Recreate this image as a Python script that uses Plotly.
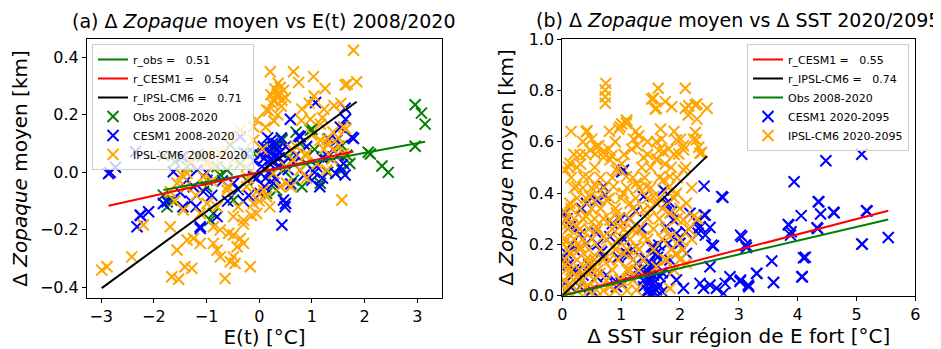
import plotly.graph_objects as go
import numpy as np

# ---------------- Panel (a) data: E(t) vs dZopaque 2008/2020 ----------------
obs_a_x = [2.96, 3.15, 2.96, 3.08, 2.11, 2.33, 2.45, 2.07, -1.82, -1.6, -1.45, -1.18, -1.31, -1.66, -1.82,
           -0.99, -0.74, -0.61, -0.55, -0.36, -0.24, -0.11, 0.43, 0.78, 0.46, 0.65, 0.81, 1.16, 1.57, 1.72,
           1.66, 1.22, 0.97, -0.93, -0.87, -0.49, 0.14, 0.33, -1.75, -1.37, -1.09, 0.43, 1.0, 0.31, 1.57,
           0.2, 0.55, 0.9, -0.3, -0.8, 1.3, 0.7, -1.0, 1.05]
obs_a_y = [0.091, 0.168, 0.235, 0.206, 0.064, 0.022, 0.0, 0.07, 0.058, 0.037, 0.054, 0.06, 0.031, -0.096, -0.079,
           -0.027, -0.009, 0.008, 0.095, 0.031, -0.027, 0.066, 0.112, 0.1, 0.008, -0.027, -0.05, -0.038, 0.008, 0.031,
           0.06, 0.054, 0.147, -0.166, -0.143, -0.096, -0.073, -0.062, -0.12, 0.02, 0.054, 0.116, 0.15, 0.081, 0.093,
           0.09, 0.05, 0.03, 0.07, 0.02, 0.0, 0.14, -0.05, 0.08]

cesm_a_x = [-2.83, -2.73, -2.86, -2.35, -2.32, -2.26, -2.1, -1.82, -1.63, -1.47, -1.37, -1.25, -1.12, -1.18, -1.06,
            -0.8, -0.49, -0.36, -0.24, -0.11, 0.14, 0.21, 0.33, 0.46, 0.49, 0.43, 0.78, 1.0, 1.09, 1.31, 1.47,
            1.79, 1.63, 1.54, 1.6, 0.65, 0.02, 0.27,
            0.1, 0.15, 0.2, 0.25, 0.3, 0.35, 0.18, 0.05, 0.4, 0.22, 0.12, 0.28,
            1.07, 0.59, 0.75, 1.54, 1.76, 1.32, 1.64, 1.63, -2.25, -1.75, -1.12, 0.5, 1.45,
            -1.5, -1.3, -0.9, -0.7, -1.0, -0.6, -1.2, -1.45, 0.7, 0.9, 1.2, 1.4, 0.85, 1.15,
            0.08, 0.16, 0.24, 0.32, 0.38, 0.45, 0.02, 0.3, 0.2, 0.42, 0.1, 0.5, 0.55, -0.1, -0.05,
            -0.2, -0.4, -0.3, 0.6, 1.05, 1.2, 1.5]
cesm_a_y = [0.0, 0.018, -0.004, 0.072, -0.189, -0.149, -0.137, -0.108, 0.002, 0.054, -0.027, -0.05, -0.189, 0.008, -0.067,
            -0.154, -0.038, 0.124, 0.066, -0.015, 0.066, 0.043, 0.078, -0.096, -0.12, -0.183, 0.124, -0.027, 0.02, 0.054, 0.112,
            0.118, -0.009, 0.02, 0.031, 0.031, -0.073, -0.038,
            0.05, 0.08, 0.03, 0.1, 0.06, 0.02, 0.0, 0.02, 0.07, 0.11, -0.02, 0.04,
            0.243, 0.185, 0.127, 0.157, 0.122, 0.116, 0.185, 0.223, -0.15, -0.102, -0.195, -0.108, -0.004,
            -0.07, -0.1, -0.08, -0.03, 0.0, -0.1, -0.12, -0.12, 0.06, 0.09, 0.05, 0.08, -0.01, -0.05,
            0.09, 0.12, 0.0, 0.1, 0.05, 0.03, 0.06, -0.02, 0.07, 0.12, -0.05, 0.09, 0.01, 0.04, -0.02,
            -0.08, -0.06, -0.1, -0.04, 0.0, -0.02, 0.06]

ipsl_a_x = [1.79, 1.85, 1.63, 0.21, 0.65, 1.03, 1.25, 0.36, 0.46, 0.33, 0.43, 0.24, 0.14,
            0.75, 1.67, 0.4, 0.34, 1.04, 0.81, 1.23, 1.42, 0.18, 0.28, 0.97, 1.16, 1.64, 1.29, 1.51, 1.23,
            0.12, 0.62, 0.88, 1.38, 1.6, 0.06,
            -2.89, -2.99, -2.42, -2.2, -1.69, -1.56, -1.66, -1.53, -1.41, -1.28, -1.37, -1.25, -1.12, -0.87,
            -0.8, -0.74, -0.87, -0.74, -0.58, -0.49, -0.49, -0.55, -0.46, -0.65, -0.17, -0.36, -0.3, -0.42,
            -0.3, -0.05, -0.11, -0.49, -0.99, -1.12, -1.44, 1.57, -1.37, -1.06, -0.74, -0.49, -0.24, -0.11,
            0.08, 0.27, 0.52, 0.78, 0.9, 1.28, 1.41, 1.16, 1.6, 0.65, 0.14, -0.05, -0.24, -0.61, -1.69,
            -1.56, -1.47, -0.87, -0.99, -0.36, -0.55, -0.11, -0.05,
            0.3, 0.38, 0.27, 0.42, 0.35, 0.22, 0.5, 0.5, 0.6, 0.9, 1.1, 1.3, 1.5, 1.0, 0.7,
            -0.4, -0.2, 0.0, -0.6, -0.9, -1.2, -1.4, -1.6, -1.3, -1.0, -0.7, -0.8, -0.3, -0.15, 0.2,
            0.4, 0.8, 1.2, 1.4, 1.55, 0.95]
ipsl_a_y = [0.425, 0.315, 0.304, 0.35, 0.35, 0.333, 0.292, 0.31, 0.286, 0.263, 0.251, 0.24, 0.217,
            0.313, 0.307, 0.296, 0.272, 0.266, 0.22, 0.22, 0.232, 0.214, 0.179, 0.185, 0.168, 0.151, 0.116, 0.093, 0.081,
            0.157, 0.081, 0.058, 0.046, 0.064, 0.081,
            -0.328, -0.34, -0.294, -0.183, -0.189, -0.27, -0.363, -0.372, -0.328, -0.334, -0.235, -0.23, -0.247, -0.247,
            -0.27, -0.294, -0.189, -0.2, -0.212, -0.218, -0.294, -0.311, -0.317, -0.369, -0.328, -0.23, -0.247, -0.259,
            -0.166, -0.143, -0.108, -0.154, -0.108, -0.143, -0.131, -0.096, -0.003, -0.015, 0.066, 0.043, 0.02, 0.112,
            -0.062, -0.003, -0.038, 0.008, 0.066, 0.008, 0.078, 0.112, 0.159, 0.043, -0.085, -0.067, -0.05, -0.062, -0.067,
            -0.038, -0.009, 0.02, 0.066, 0.147, 0.124, 0.159, 0.182,
            0.29, 0.27, 0.25, 0.23, 0.2, 0.27, 0.26, 0.02, -0.05, -0.02, 0.03, 0.1, 0.12, 0.13, 0.09,
            -0.12, -0.02, -0.1, -0.05, -0.03, -0.08, -0.05, -0.1, 0.04, 0.03, 0.06, -0.12, -0.18, -0.15, -0.12,
            -0.05, 0.18, 0.19, 0.14, 0.24, 0.24]

# regression lines (slope, intercept)
fit_a_slope = {"obs": 0.0338, "cesm": 0.0405, "ipsl": 0.134}
fit_a_icpt = {"obs": 0.0, "cesm": 0.0, "ipsl": -0.002}
r_a = {"obs": "0.51", "cesm": "0.54", "ipsl": "0.71"}

# ---------------- Panel (b) data: dSST vs dZopaque 2020/2095 ----------------
cesm_b_x = [5.09, 4.48, 3.94, 2.41, 2.73, 4.35, 4.62, 5.17, 4.39, 4.06, 3.84, 3.89, 4.34, 5.54, 5.1,
            3.05, 3.12, 3.13, 3.56, 4.13, 4.08, 3.59, 3.3, 2.85, 3.02, 3.16, 2.77, 2.62, 2.74, 2.51,
            2.34, 2.4, 2.06, 2.51, 2.57, 2.43, 2.34, 2.41, 2.51, 2.28, 2.31, 2.17, 1.89, 1.94, 1.77,
            1.8, 2.0, 2.11, 1.83, 1.6, 1.55, 1.49, 1.41, 1.52, 1.6, 1.46, 1.38, 1.15, 1.26, 1.09,
            1.04, 1.72, 1.77, 0.98, 0.81, 0.7, 0.58, 0.41, 0.13, 0.07, 0.05, 0.19, 0.3, 0.02, 0.41,
            0.92, 0.58, 1.38, 0.7, 1.83, 1.94, 1.66, 3.03, 3.11, 3.03, 3.17, 3.31, 3.59, 4.07, 4.1,
            3.85, 3.88, 4.36, 4.61, 4.33, 5.18, 5.09, 2.71, 2.43, 2.32, 2.54,
            1.01, 1.13, 0.73, 0.33, 0.16, 0.56, 1.13, 1.35, 1.86, 1.81, 2.1, 0.67, 0.23, 0.91, 1.3,
            1.59, 1.47, 1.56, 1.7, 1.41, 1.64, 0.06, 0.11, 1.5, 1.55, 1.62, 1.48, 1.53, 1.58,
            1.45, 1.5, 1.55, 1.6, 1.65, 1.42, 1.58, 1.52, 1.7, 1.48, 1.62, 1.38,
            0.05, 0.1, 0.15, 0.3, 0.2, 0.08, 0.45, 0.6, 0.75, 0.95, 1.05, 1.2, 0.85, 1.25, 1.0, 0.5, 0.35]
cesm_b_y = [0.551, 0.526, 0.444, 0.427, 0.383, 0.366, 0.323, 0.331, 0.318, 0.312, 0.278, 0.249, 0.262, 0.227, 0.201,
            0.23, 0.197, 0.188, 0.135, 0.15, 0.074, 0.051, 0.087, 0.074, 0.055, 0.042, 0.048, 0.029, 0.009, 0.042,
            0.048, 0.029, 0.029, 0.113, 0.194, 0.236, 0.269, 0.314, 0.266, 0.288, 0.243, 0.321, 0.295, 0.243, 0.269,
            0.204, 0.204, 0.165, 0.139, 0.165, 0.191, 0.113, 0.087, 0.042, 0.022, 0.016, 0.035, 0.074, 0.126, 0.165,
            0.49, 0.412, 0.36, 0.295, 0.23, 0.152, 0.074, 0.36, 0.269, 0.165, 0.321, 0.1, 0.035, 0.139, 0.204,
            0.035, 0.373, 0.386, 0.425, 0.087, 0.061, 0.074, 0.236, 0.197, 0.061, 0.035, 0.087, 0.052, 0.074, 0.148,
            0.275, 0.236, 0.366, 0.325, 0.265, 0.33, 0.201, 0.386, 0.314, 0.262, 0.197,
            0.483, 0.302, 0.392, 0.34, 0.275, 0.249, 0.159, 0.262, 0.327, 0.366, 0.249, 0.171, 0.093, 0.055, 0.093,
            0.12, 0.068, 0.029, 0.016, 0.146, 0.197, 0.146, 0.042, 0.06, 0.1, 0.15, 0.005, 0.01, 0.18,
            0.02, 0.05, 0.08, 0.12, 0.04, 0.1, 0.16, 0.19, 0.09, 0.13, 0.0, 0.06,
            0.05, 0.12, 0.2, 0.24, 0.18, 0.3, 0.12, 0.2, 0.08, 0.15, 0.22, 0.18, 0.28, 0.33, 0.05, 0.02, 0.08]

ipsl_b_x = [0.74, 0.73, 0.73, 0.73, 1.63, 2.09, 1.55, 1.75, 1.6, 1.86, 2.09, 2.26, 2.46, 2.14, 1.09,
            1.52, 1.58, 2.15, 2.29, 2.29, 1.01, 1.1, 0.96, 0.42, 0.5, 0.62, 0.79, 0.56, 0.7, 0.84,
            0.31, 0.11, 1.21, 1.3, 1.27, 1.18, 1.38, 1.67, 1.69, 1.64, 1.81, 2.01, 2.06, 2.26, 2.23,
            2.32, 2.37, 1.98, 1.61, 1.01, 1.75,
            0.41, 0.13, 0.05, 0.3, 0.47, 0.58, 0.7, 0.81, 0.98, 1.09, 0.92, 1.09, 1.26, 1.43, 1.6,
            1.72, 1.94, 2.06, 2.28, 2.34, 2.06, 1.83, 1.72, 1.94, 2.11, 2.23, 2.06, 1.83, 1.6, 1.55,
            1.38, 1.15, 1.04, 0.87, 0.75, 0.58, 0.47, 0.36, 0.24, 0.13, 0.07, 0.24, 0.41, 0.58, 0.7,
            0.87, 1.04, 1.26, 1.38, 1.21, 0.98, 0.81, 0.92, 1.83, 1.94, 2.11, 1.77, 1.6, 1.38, 1.15,
            0.98, 0.81, 0.64, 0.47, 0.3, 0.13, 0.07, 0.13, 0.24, 0.41, 0.07, 0.05, 0.58, 1.26, 1.83,
            0.41, 0.7, 0.03, 0.05, 0.02, 0.04, 0.03,
            0.1, 0.25, 0.45, 0.7, 0.9, 1.1,
            0.03, 0.2, 0.35, 0.55, 0.75, 1.0, 1.2,
            0.15, 0.3, 0.5, 0.6, 0.85, 1.1, 1.3, 1.9,
            0.05, 0.25, 0.4, 0.55, 0.8, 0.95, 1.2, 1.75, 2.0,
            0.1, 0.3, 0.45, 0.65, 0.9, 1.1, 1.3, 1.55, 1.85, 2.05,
            0.02, 0.2, 0.35, 0.5, 0.75, 0.95, 1.15, 1.45, 1.7, 2.0, 2.2,
            0.1, 0.3, 0.45, 0.6, 0.85, 1.05, 1.3, 1.55, 1.75, 2.15,
            0.05, 0.2, 0.35, 0.55, 0.7, 0.95, 1.15, 1.45, 1.65, 1.95, 2.3,
            0.15, 0.3, 0.5, 0.65, 0.9, 1.2, 1.5, 1.7, 2.0,
            0.25, 0.4, 0.6, 0.8, 1.0, 1.25, 1.45, 1.65, 1.9,
            0.2, 0.35, 0.5, 0.7, 1.1, 1.3, 1.5, 1.8, 2.2,
            0.15, 0.45, 0.65, 0.85, 1.2, 1.4, 1.65, 1.95,
            0.25, 0.55, 0.95, 1.35, 1.5, 1.85, 2.1,
            0.2, 0.4, 1.05, 1.45, 1.9,
            0.35, 0.9, 1.45, 1.6,
            0.15, 0.8, 1.25, 1.9]
ipsl_b_y = [0.827, 0.801, 0.775, 0.75, 0.808, 0.808, 0.769, 0.756, 0.73, 0.736, 0.73, 0.743, 0.73, 0.704, 0.684,
            0.766, 0.727, 0.74, 0.747, 0.688, 0.669, 0.682, 0.649, 0.643, 0.61, 0.584, 0.571, 0.552, 0.539, 0.545,
            0.513, 0.5, 0.61, 0.623, 0.584, 0.571, 0.539, 0.649, 0.61, 0.565, 0.571, 0.61, 0.584, 0.636, 0.61,
            0.578, 0.558, 0.552, 0.533, 0.513, 0.513,
            0.639, 0.516, 0.49, 0.548, 0.567, 0.58, 0.561, 0.529, 0.658, 0.672, 0.49, 0.464, 0.438, 0.425, 0.529,
            0.561, 0.607, 0.568, 0.607, 0.555, 0.49, 0.464, 0.451, 0.399, 0.36, 0.308, 0.295, 0.321, 0.36, 0.386,
            0.334, 0.36, 0.399, 0.425, 0.373, 0.425, 0.386, 0.464, 0.425, 0.36, 0.295, 0.269, 0.308, 0.269, 0.23,
            0.191, 0.165, 0.191, 0.23, 0.256, 0.269, 0.295, 0.321, 0.23, 0.165, 0.126, 0.139, 0.113, 0.139, 0.1,
            0.061, 0.035, 0.087, 0.139, 0.191, 0.165, 0.1, 0.048, 0.074, 0.035, 0.217, 0.022, 0.022, 0.022, 0.029,
            0.1, 0.139, 0.33, 0.27, 0.2, 0.12, 0.06,
            0.02, 0.02, 0.02, 0.02, 0.02, 0.02,
            0.06, 0.06, 0.06, 0.06, 0.06, 0.06, 0.06,
            0.1, 0.1, 0.1, 0.1, 0.1, 0.1, 0.1, 0.1,
            0.14, 0.14, 0.14, 0.14, 0.14, 0.14, 0.14, 0.14, 0.14,
            0.18, 0.18, 0.18, 0.18, 0.18, 0.18, 0.18, 0.18, 0.18, 0.18,
            0.22, 0.22, 0.22, 0.22, 0.22, 0.22, 0.22, 0.22, 0.22, 0.22, 0.22,
            0.26, 0.26, 0.26, 0.26, 0.26, 0.26, 0.26, 0.26, 0.26, 0.26,
            0.3, 0.3, 0.3, 0.3, 0.3, 0.3, 0.3, 0.3, 0.3, 0.3, 0.3,
            0.34, 0.34, 0.34, 0.34, 0.34, 0.34, 0.34, 0.34, 0.34,
            0.38, 0.38, 0.38, 0.38, 0.38, 0.38, 0.38, 0.38, 0.38,
            0.42, 0.42, 0.42, 0.42, 0.42, 0.42, 0.42, 0.42, 0.42,
            0.46, 0.46, 0.46, 0.46, 0.46, 0.46, 0.46, 0.46,
            0.5, 0.5, 0.5, 0.5, 0.5, 0.5, 0.5,
            0.55, 0.55, 0.55, 0.55, 0.55,
            0.6, 0.6, 0.6, 0.6,
            0.64, 0.64, 0.64, 0.64]

fit_b_slope = {"cesm": 0.0598, "ipsl": 0.221, "obs": 0.0536}
r_b = {"cesm": "0.55", "ipsl": "0.74"}

GREEN, BLUE, ORANGE, RED, BLACK = "#008000", "#0000ff", "#ffa500", "#ff0000", "#000000"
FONT = "DejaVu Sans"
NB = "\u00a0"

fig = go.Figure()


def mk(color, size=11):
    return dict(symbol="x-thin", size=size, color=color, line=dict(width=2, color=color))


def fit_line(xs, slope, icpt, x0=None):
    lo = min(xs) if x0 is None else x0
    xx = np.array([lo, max(xs)])
    return xx, slope * xx + icpt

# ---- Panel (a) scatter ----
fig.add_trace(go.Scatter(x=obs_a_x, y=obs_a_y, mode="markers", marker=mk(GREEN), name="Obs 2008-2020",
                         legend="legend", legendrank=4, xaxis="x", yaxis="y"))
fig.add_trace(go.Scatter(x=cesm_a_x, y=cesm_a_y, mode="markers", marker=mk(BLUE), name="CESM1 2008-2020",
                         legend="legend", legendrank=5, xaxis="x", yaxis="y"))
fig.add_trace(go.Scatter(x=ipsl_a_x, y=ipsl_a_y, mode="markers", marker=mk(ORANGE), name="IPSL-CM6 2008-2020",
                         legend="legend", legendrank=6, xaxis="x", yaxis="y"))
for key, col, lab, rank, xs in [("obs", GREEN, "r_obs =", 1, obs_a_x),
                                ("cesm", RED, "r_CESM1 =", 2, cesm_a_x),
                                ("ipsl", BLACK, "r_IPSL-CM6 =", 3, ipsl_a_x)]:
    lx, ly = fit_line(xs, fit_a_slope[key], fit_a_icpt[key])
    fig.add_trace(go.Scatter(x=lx, y=ly, mode="lines", line=dict(color=col, width=2),
                             name=lab + NB * 3 + r_a[key], legend="legend", legendrank=rank,
                             xaxis="x", yaxis="y"))

# ---- Panel (b) scatter ----
fig.add_trace(go.Scatter(x=cesm_b_x, y=cesm_b_y, mode="markers", marker=mk(BLUE), name="CESM1 2020-2095",
                         legend="legend2", legendrank=4, xaxis="x2", yaxis="y2"))
fig.add_trace(go.Scatter(x=ipsl_b_x, y=ipsl_b_y, mode="markers", marker=mk(ORANGE), name="IPSL-CM6 2020-2095",
                         legend="legend2", legendrank=5, xaxis="x2", yaxis="y2"))
for key, col, lab, rank, xs in [("cesm", RED, "r_CESM1 =" + NB * 3 + r_b["cesm"], 1, cesm_b_x),
                                ("ipsl", BLACK, "r_IPSL-CM6 =" + NB * 3 + r_b["ipsl"], 2, ipsl_b_x),
                                ("obs", GREEN, "Obs 2008-2020", 3, cesm_b_x)]:
    lx, ly = fit_line(xs, fit_b_slope[key], 0.0, x0=0.0)
    fig.add_trace(go.Scatter(x=lx, y=ly, mode="lines", line=dict(color=col, width=2),
                             name=lab, legend="legend2", legendrank=rank, xaxis="x2", yaxis="y2"))

# The page body has an 8px margin: the figure is sized/positioned to compensate
OFF = 8
W, H = 941 - OFF, 349 - OFF


def px_x(p):
    return (p - OFF) / W


def px_y(p):
    return 1 - (p - OFF) / H


ax_common = dict(showline=True, mirror=True, linecolor="black", linewidth=1, ticks="outside", ticklen=4,
                 tickcolor="black", showgrid=False, zeroline=False, automargin=False,
                 tickfont=dict(family=FONT, size=16, color="black"),
                 title_font=dict(family=FONT, size=20, color="black"))

fig.update_layout(
    width=W, height=H, margin=dict(l=0, r=0, t=0, b=0, autoexpand=False),
    paper_bgcolor="white", plot_bgcolor="white",
    font=dict(family=FONT, color="black"),
    xaxis=dict(ax_common, domain=[px_x(87), px_x(442)], range=[-3.27, 3.47], tickvals=[-3, -2, -1, 0, 1, 2, 3],
               anchor="y", title=dict(text="E(t) [°C]", standoff=3)),
    yaxis=dict(ax_common, domain=[px_y(298), px_y(39)], range=[-0.437, 0.464],
               tickvals=[-0.4, -0.2, 0.0, 0.2, 0.4], tickformat=".1f", anchor="x",
               title=dict(text="Δ <i>Zopaque</i> moyen [km]", standoff=10)),
    xaxis2=dict(ax_common, domain=[px_x(562.3), px_x(915.3)], range=[0, 6], tickvals=[0, 1, 2, 3, 4, 5, 6],
                anchor="y2", title=dict(text="Δ SST sur région de E fort [°C]", standoff=3)),
    yaxis2=dict(ax_common, domain=[px_y(295.7), px_y(39)], range=[0, 1.0],
                tickvals=[0.0, 0.2, 0.4, 0.6, 0.8, 1.0], tickformat=".1f", anchor="x2",
                title=dict(text="Δ <i>Zopaque</i> moyen [km]", standoff=9)),
    legend=dict(x=px_x(92), y=px_y(44), xanchor="left", yanchor="top", bgcolor="rgba(255,255,255,0.8)",
                bordercolor="#cccccc", borderwidth=1, font=dict(family=FONT, size=11, color="black"),
                tracegroupgap=0, itemwidth=30),
    legend2=dict(x=px_x(909), y=px_y(44), xanchor="right", yanchor="top", bgcolor="rgba(255,255,255,0.8)",
                 bordercolor="#cccccc", borderwidth=1, font=dict(family=FONT, size=11, color="black"),
                 tracegroupgap=0, itemwidth=30),
    annotations=[
        dict(text="(a) Δ <i>Zopaque</i> moyen vs E(t) 2008/2020", xref="paper", yref="paper",
             x=px_x(264), y=px_y(21), xanchor="center", yanchor="middle", showarrow=False,
             font=dict(family=FONT, size=19, color="black")),
        dict(text="(b) Δ <i>Zopaque</i> moyen vs Δ SST 2020/2095", xref="paper", yref="paper",
             x=px_x(738), y=px_y(20), xanchor="center", yanchor="middle", showarrow=False,
             font=dict(family=FONT, size=19, color="black")),
    ],
)

fig.write_html("out.html")
